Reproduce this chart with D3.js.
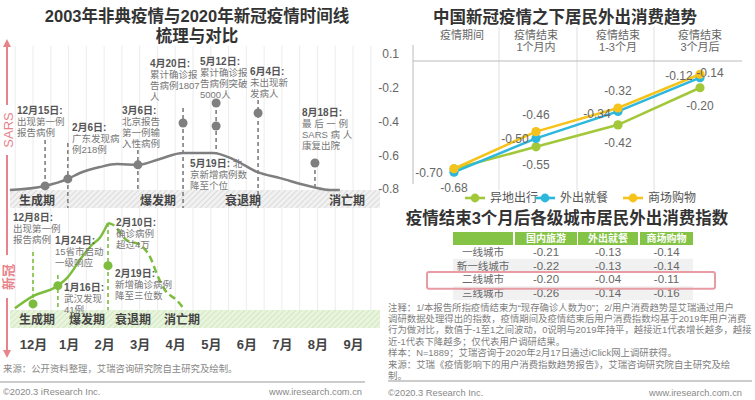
<!DOCTYPE html>
<html><head><meta charset="utf-8">
<script src="https://cdn.jsdelivr.net/npm/d3@7"></script>
<style>
body{margin:0;background:#fff;}
svg{display:block;font-family:"Liberation Sans","Noto Sans CJK SC",sans-serif;}
</style></head><body>
<svg id="c" width="755" height="400"></svg>
<script>
// ---------------- DATA ----------------
const months = ["12月","1月","2月","3月","4月","5月","6月","7月","8月","9月"];
const phases = ["生成期","爆发期","衰退期","消亡期"];
// SARS curve (time in months from Dec, relative intensity)
const sarsCurveT = [-0.65,0.34,0.98,1.32,1.88,2.36,2.95,3.57,4.22,5.06,5.68,6.30,6.95,7.87,8.35,8.63];
const sarsCurveLevel = [0,0.11,0.30,0.46,0.62,0.70,0.68,0.84,1.0,1.0,0.81,0.49,0.32,0.08,0,0];
const sarsDates = ["12月15日:","2月6日:","3月6日:","4月20日:","5月12日:","5月19日:","6月4日:","8月18日:"];
const sarsInline = ["","","","",""," 北","",""];
const sarsTexts = [["出现第一例","报告病例"],["广东发现病","例218例"],["北京报告","第一例输","入性病例"],["累计确诊报","告病例1807","人"],["累计确诊报","告病例突破","5000人"],["京新增病例数","降至个位"],["未出现新","发病人"],["最 后 一 例","SARS 病 人","康复出院"]];
const sarsEventT = [0.34,0.98,2.95,4.22,5.15,5.15,6.33,7.93];
const sarsEventLevel = [0.11,0.30,0.68,1.81,2.35,1.73,2.08,0.73];
// COVID curve
const covidSolidT = [-0.51,0,0.62,0.96,1.38,1.66,1.88,2.11];
const covidSolidLevel = [0.02,0.16,0.26,0.37,0.61,0.75,0.83,1.0];
const covidDashT = [2.11,2.25,2.64,3.01,3.29,3.52,3.71,4.05,4.27];
const covidDashLevel = [1.0,0.98,0.80,0.75,0.61,0.38,0.23,0.11,0.0];
const covidDates = ["12月8日:","1月24日:","1月16日:","2月10日:","2月19日:"];
const covidTexts = [["出现第一例","报告病例"],["15省市启动","一级响应"],["武汉发现","41例"],["确诊病例","超过4万"],["新增确诊病例","降至三位数"]];
const covidEventT = [0,null,0.70,2.11,2.11];
const covidEventLevel = [0.07,null,0.28,null,0.51];

// right line chart
const periodsLine1 = ["疫情期间","疫情结束","疫情结束","疫情结束"];
const periodsLine2 = ["","1个月内","1-3个月","3个月后"];
const seriesNames = ["异地出行","外出就餐","商场购物"];
const travel = [-0.68,-0.55,-0.42,-0.20];
const dining = [-0.70,-0.50,-0.34,-0.14];
const shopping = [-0.68,-0.46,-0.32,-0.12];
const shoppingLabeled = [false,true,true,true];
const yTicks = [0,-0.2,-0.4,-0.6,-0.8];
const yTickLabels = ["0.1","-0.2","-0.4","-0.6","-0.8"];

// table
const tableHeaders = ["国内旅游","外出就餐","商场购物"];
const cityTiers = ["一线城市","新一线城市","二线城市","三线城市"];
const domesticTravel = [-0.21,-0.22,-0.20,-0.26];
const diningOut = [-0.13,-0.13,-0.04,-0.14];
const mallShopping = [-0.14,-0.14,-0.11,-0.16];
const highlightTier = "二线城市";

// ---------------- LAYOUT ----------------
const svg = d3.select("#c");
const defs = svg.append("defs");
function hatch(id,bg,fg){
  const p = defs.append("pattern").attr("id",id).attr("patternUnits","userSpaceOnUse")
    .attr("width",4).attr("height",4).attr("patternTransform","rotate(45)");
  p.append("rect").attr("width",4).attr("height",4).attr("fill",bg);
  p.append("line").attr("x1",0).attr("y1",0).attr("x2",0).attr("y2",4).attr("stroke",fg).attr("stroke-width",1.3);
}
hatch("hg","#f1f1f1","#cfcfcf");
hatch("hgr","#e9f4df","#c8e2ad");

const GRAY="#7f7f7f", GREEN="#7cbd3e", PINK="#e8838b";

// ---- Left titles
svg.append("text").attr("x",197).attr("y",22).attr("text-anchor","middle").attr("font-size",16.5).attr("font-weight","bold").attr("fill","#333").text("2003年非典疫情与2020年新冠疫情时间线");
svg.append("text").attr("x",197).attr("y",42).attr("text-anchor","middle").attr("font-size",16.5).attr("font-weight","bold").attr("fill","#333").text("梳理与对比");

const monthX = d3.scaleLinear().domain([0,9]).range([33,353]);
const sarsY = d3.scaleLinear().domain([0,1]).range([190,153]);
const covidY = d3.scaleLinear().domain([0,1]).range([310,223]);

// grid lines
svg.append("g").selectAll("line").data(d3.range(-0.5,9.6,0.5)).join("line")
  .attr("x1",d=>monthX(d)).attr("x2",d=>monthX(d)).attr("y1",46).attr("y2",310)
  .attr("stroke","#ececec").attr("stroke-width",1);

// bands
svg.append("rect").attr("x",10).attr("y",190).attr("width",370).attr("height",18).attr("fill","url(#hg)");
svg.append("rect").attr("x",10).attr("y",310).attr("width",370).attr("height",18).attr("fill","url(#hgr)");

// SARS curve
const sarsLine = d3.line().x(d=>monthX(d[0])).y(d=>sarsY(d[1])).curve(d3.curveMonotoneX);
svg.append("path").attr("d",sarsLine(d3.zip(sarsCurveT,sarsCurveLevel))).attr("fill","none").attr("stroke",GRAY).attr("stroke-width",2.5);

// SARS annotations
const sarsNoteXY = [[17,110],[72,127],[122,110],[150,63],[200,61],[190,163],[250,71],[302,112]];
const sarsStem = [[140,186],[143,208],[150,190],[108,208],[103,153],null,[100,208],[163,188]];
sarsDates.forEach((d,i)=>{
  const x = monthX(sarsEventT[i]);
  if(sarsStem[i]) svg.append("line").attr("x1",x).attr("x2",x).attr("y1",sarsStem[i][0]).attr("y2",sarsStem[i][1])
      .attr("stroke",GRAY).attr("stroke-width",1.6).attr("stroke-dasharray","4,3");
});
sarsDates.forEach((d,i)=>{
  const x = monthX(sarsEventT[i]);
  svg.append("circle").attr("cx",x).attr("cy",sarsY(sarsEventLevel[i])).attr("r",4.5).attr("fill",GRAY);
  const [tx,ty] = sarsNoteXY[i];
  const t = svg.append("text").attr("x",tx).attr("y",ty).attr("dominant-baseline","central");
  t.append("tspan").attr("font-size",10).attr("font-weight","bold").attr("fill","#555").text(d);
  if(sarsInline[i]) t.append("tspan").attr("font-size",9.5).attr("fill","#777").text(sarsInline[i]);
  sarsTexts[i].forEach((ln,j)=>{
    svg.append("text").attr("x",tx).attr("y",ty+11*(j+1)).attr("dominant-baseline","central")
      .attr("font-size",9.5).attr("fill","#777").text(ln);
  });
});

// COVID curve
const covLine = d3.line().x(d=>monthX(d[0])).y(d=>covidY(d[1])).curve(d3.curveMonotoneX);
svg.append("path").attr("d",covLine(d3.zip(covidSolidT,covidSolidLevel))).attr("fill","none").attr("stroke",GREEN).attr("stroke-width",2.5);
svg.append("path").attr("d",covLine(d3.zip(covidDashT,covidDashLevel))).attr("fill","none").attr("stroke",GREEN).attr("stroke-width",2.5).attr("stroke-dasharray","7,4");

const covidNoteXY = [[13,217],[55,240],[64,287],[116,222],[115,273]];
const covidStem = [[252,304],null,[275,310],[223,310],null];
covidDates.forEach((d,i)=>{
  if(covidStem[i]){
    const x = monthX(covidEventT[i]);
    svg.append("line").attr("x1",x).attr("x2",x).attr("y1",covidStem[i][0]).attr("y2",covidStem[i][1])
      .attr("stroke",GREEN).attr("stroke-width",1.6).attr("stroke-dasharray","4,3");
  }
});
covidDates.forEach((d,i)=>{
  if(covidEventLevel[i]!==null)
    svg.append("circle").attr("cx",monthX(covidEventT[i])).attr("cy",covidY(covidEventLevel[i])).attr("r",4.5).attr("fill",GREEN);
  const [tx,ty] = covidNoteXY[i];
  svg.append("text").attr("x",tx).attr("y",ty).attr("dominant-baseline","central")
    .attr("font-size",10).attr("font-weight","bold").attr("fill","#555").text(d);
  covidTexts[i].forEach((ln,j)=>{
    svg.append("text").attr("x",tx).attr("y",ty+11*(j+1)).attr("dominant-baseline","central")
      .attr("font-size",9.5).attr("fill","#777").text(ln);
  });
});

// phase labels
const sarsPhaseX = [37,158,243,347], covidPhaseX=[37,87,133,182];
phases.forEach((p,i)=>{
  svg.append("text").attr("x",sarsPhaseX[i]).attr("y",201).attr("text-anchor","middle").attr("dominant-baseline","central")
    .attr("font-size",12).attr("font-weight","bold").attr("fill","#444").text(p);
  svg.append("text").attr("x",covidPhaseX[i]).attr("y",320).attr("text-anchor","middle").attr("dominant-baseline","central")
    .attr("font-size",12).attr("font-weight","bold").attr("fill","#444").text(p);
});

// month axis
const mAxis = svg.append("g").attr("transform","translate(0,340)")
  .call(d3.axisBottom(monthX).tickValues(d3.range(months.length)).tickFormat(i=>months[i]).tickSize(0).tickPadding(0));
mAxis.select(".domain").remove();
mAxis.selectAll("text").attr("font-size",13).attr("font-weight","bold").attr("fill","#444")
  .attr("font-family",'"Liberation Sans","Noto Sans CJK SC",sans-serif');

// pink arrow
const ar = svg.append("g").attr("stroke",PINK).attr("stroke-width",2).attr("fill","none");
ar.append("line").attr("x1",7).attr("x2",7).attr("y1",44).attr("y2",105);
ar.append("line").attr("x1",7).attr("x2",7).attr("y1",155).attr("y2",255);
ar.append("line").attr("x1",7).attr("x2",7).attr("y1",298).attr("y2",352);
svg.append("path").attr("d","M7,39 L3,47 L11,47 Z").attr("fill",PINK);
svg.append("path").attr("d","M7,358 L3,350 L11,350 Z").attr("fill",PINK);
svg.append("text").attr("transform","translate(8,130) rotate(-90)").attr("text-anchor","middle").attr("dominant-baseline","central")
  .attr("font-size",13).attr("fill",PINK).text("SARS");
svg.append("text").attr("transform","translate(8,277) rotate(-90)").attr("text-anchor","middle").attr("dominant-baseline","central")
  .attr("font-size",13).attr("font-weight","bold").attr("fill",PINK).text("新冠");

// left footer
svg.append("text").attr("x",3).attr("y",368).attr("dominant-baseline","central").attr("font-size",9.4).attr("fill","#888").text("来源：公开资料整理，艾瑞咨询研究院自主研究及绘制。");
svg.append("line").attr("x1",0).attr("x2",365).attr("y1",382).attr("y2",382).attr("stroke","#999").attr("stroke-width",1);
svg.append("text").attr("x",3).attr("y",392).attr("dominant-baseline","central").attr("font-size",9.3).attr("fill","#888").text("©2020.3 iResearch Inc.");
svg.append("text").attr("x",362).attr("y",392).attr("text-anchor","end").attr("dominant-baseline","central").attr("font-size",9.3).attr("fill","#888").text("www.iresearch.com.cn");

// ---------------- RIGHT LINE CHART ----------------
svg.append("text").attr("x",565).attr("y",23).attr("text-anchor","middle").attr("font-size",16.5).attr("font-weight","bold").attr("fill","#333").text("中国新冠疫情之下居民外出消费趋势");

const px = d3.scalePoint().domain(d3.range(4)).range([454,700]);
const py = d3.scaleLinear().domain([0,-0.8]).range([54,189]);

// grid
[ (px(0)+px(1))/2+4, (px(1)+px(2))/2, (px(2)+px(3))/2-5 ].forEach(x=>{
  svg.append("line").attr("x1",x).attr("x2",x).attr("y1",27).attr("y2",190).attr("stroke","#dedede");
});
svg.append("line").attr("x1",413).attr("x2",413).attr("y1",45).attr("y2",184).attr("stroke","#bbb");
svg.append("line").attr("x1",413).attr("x2",742).attr("y1",61).attr("y2",61).attr("stroke","#bbb");

// headers
periodsLine1.forEach((t,i)=>{
  svg.append("text").attr("x",px(i)+(i==0?8:0)).attr("y",35).attr("text-anchor","middle").attr("dominant-baseline","central").attr("font-size",11).attr("fill","#666").text(t);
  if(periodsLine2[i]) svg.append("text").attr("x",px(i)).attr("y",47).attr("text-anchor","middle").attr("dominant-baseline","central").attr("font-size",11).attr("fill","#666").text(periodsLine2[i]);
});

// y axis labels
const yAx = svg.append("g").attr("transform","translate(399,0)")
  .call(d3.axisLeft(py).tickValues(yTicks).tickFormat((d,i)=>yTickLabels[i]).tickSize(0).tickPadding(0));
yAx.select(".domain").remove();
yAx.selectAll("text").attr("font-size",12).attr("fill","#666");

const colors = ["#a2c83a","#2db7dc","#f5c31c"];
const allSeries = [travel,dining,shopping];
const line = d3.line().x((d,i)=>px(i)).y(d=>py(d));
allSeries.forEach((s,k)=>{
  svg.append("path").attr("d",line(s)).attr("fill","none").attr("stroke",colors[k]).attr("stroke-width",2.6);
  svg.append("g").selectAll("circle").data(s).join("circle").attr("cx",(d,i)=>px(i)).attr("cy",d=>py(d)).attr("r",4.6).attr("fill",colors[k]);
});
// value labels
const labelOff = [
  [[0,19],[0,18],[0,18],[0,18]],
  [[-25,1],[-21,1],[-21,3],[10,-5]],
  [[0,-17],[0,-17],[0,-17],[-21,2]]
];
allSeries.forEach((s,k)=>{
  s.forEach((v,i)=>{
    if(k==2 && !shoppingLabeled[i]) return;
    svg.append("text").attr("x",px(i)+labelOff[k][i][0]).attr("y",py(v)+labelOff[k][i][1])
      .attr("text-anchor","middle").attr("dominant-baseline","central").attr("font-size",12).attr("fill","#666").text(v.toFixed(2));
  });
});
// legend
const legX = [465,535,623];
seriesNames.forEach((n,k)=>{
  svg.append("line").attr("x1",legX[k]).attr("x2",legX[k]+20).attr("y1",198).attr("y2",198).attr("stroke",colors[k]).attr("stroke-width",2.6);
  svg.append("circle").attr("cx",legX[k]+10).attr("cy",198).attr("r",4.4).attr("fill",colors[k]);
  svg.append("text").attr("x",legX[k]+25).attr("y",198).attr("dominant-baseline","central").attr("font-size",12).attr("fill","#555").text(n);
});

// ---------------- TABLE ----------------
svg.append("text").attr("x",567).attr("y",224).attr("text-anchor","middle").attr("font-size",16.5).attr("font-weight","bold").attr("fill","#333").text("疫情结束3个月后各级城市居民外出消费指数");
const colX = [[453,513],[515,577],[578,638],[640,693]];
const rowY = d3.scaleBand().domain(cityTiers).range([245,300]);
colX.forEach((c,i)=>{
  svg.append("rect").attr("x",c[0]).attr("y",232).attr("width",c[1]-c[0]).attr("height",13).attr("fill","#84c346");
  if(i>0) svg.append("text").attr("x",(c[0]+c[1])/2).attr("y",238.5).attr("text-anchor","middle").attr("dominant-baseline","central").attr("font-size",10).attr("font-weight","bold").attr("fill","#fff").text(tableHeaders[i-1]);
});
cityTiers.forEach((c,r)=>{
  if(r%2==1) svg.append("rect").attr("x",453).attr("y",rowY(c)).attr("width",240).attr("height",rowY.bandwidth()).attr("fill","#f1f1f1");
});
const tableCols = [domesticTravel,diningOut,mallShopping];
cityTiers.forEach((c,r)=>{
  const cy = rowY(c)+rowY.bandwidth()/2;
  svg.append("text").attr("x",(colX[0][0]+colX[0][1])/2).attr("y",cy).attr("text-anchor","middle").attr("dominant-baseline","central").attr("font-size",10.5).attr("fill","#666").text(c);
  tableCols.forEach((col,j)=>{
    svg.append("text").attr("x",(colX[j+1][0]+colX[j+1][1])/2).attr("y",cy).attr("text-anchor","middle").attr("dominant-baseline","central").attr("font-size",11.5).attr("fill","#666").text(col[r].toFixed(2));
  });
});
svg.append("rect").attr("x",427).attr("y",rowY(highlightTier)-0.5).attr("width",288).attr("height",rowY.bandwidth()+3).attr("rx",2)
  .attr("fill","none").attr("stroke","#e89ba3").attr("stroke-width",2);

// notes
const notes = ["注释：1/本报告所指疫情结束为“现存确诊人数为0”；2/用户消费趋势是艾瑞通过用户",
"调研数据处理得出的指数，疫情期间及疫情结束后用户消费指数均基于2019年用户消费",
"行为做对比，数值于-1至1之间波动，0说明与2019年持平，越接近1代表增长越多，越接",
"近-1代表下降越多；仅代表用户调研结果。",
"样本：N=1889；艾瑞咨询于2020年2月17日通过iClick网上调研获得。",
"来源：艾瑞《疫情影响下的用户消费指数趋势报告》，艾瑞咨询研究院自主研究及绘",
"制。"];
notes.forEach((n,i)=>{
  svg.append("text").attr("x",388).attr("y",307+11.4*i).attr("dominant-baseline","central").attr("font-size",9.4).attr("fill","#808080").text(n);
});
svg.append("line").attr("x1",388).attr("x2",752).attr("y1",381).attr("y2",381).attr("stroke","#999");
svg.append("text").attr("x",388).attr("y",393).attr("dominant-baseline","central").attr("font-size",9.3).attr("fill","#888").text("©2020.3 Research Inc.");
svg.append("text").attr("x",742).attr("y",393).attr("text-anchor","end").attr("dominant-baseline","central").attr("font-size",9.3).attr("fill","#888").text("www.iresearch.com.cn");
</script>
</body></html>
